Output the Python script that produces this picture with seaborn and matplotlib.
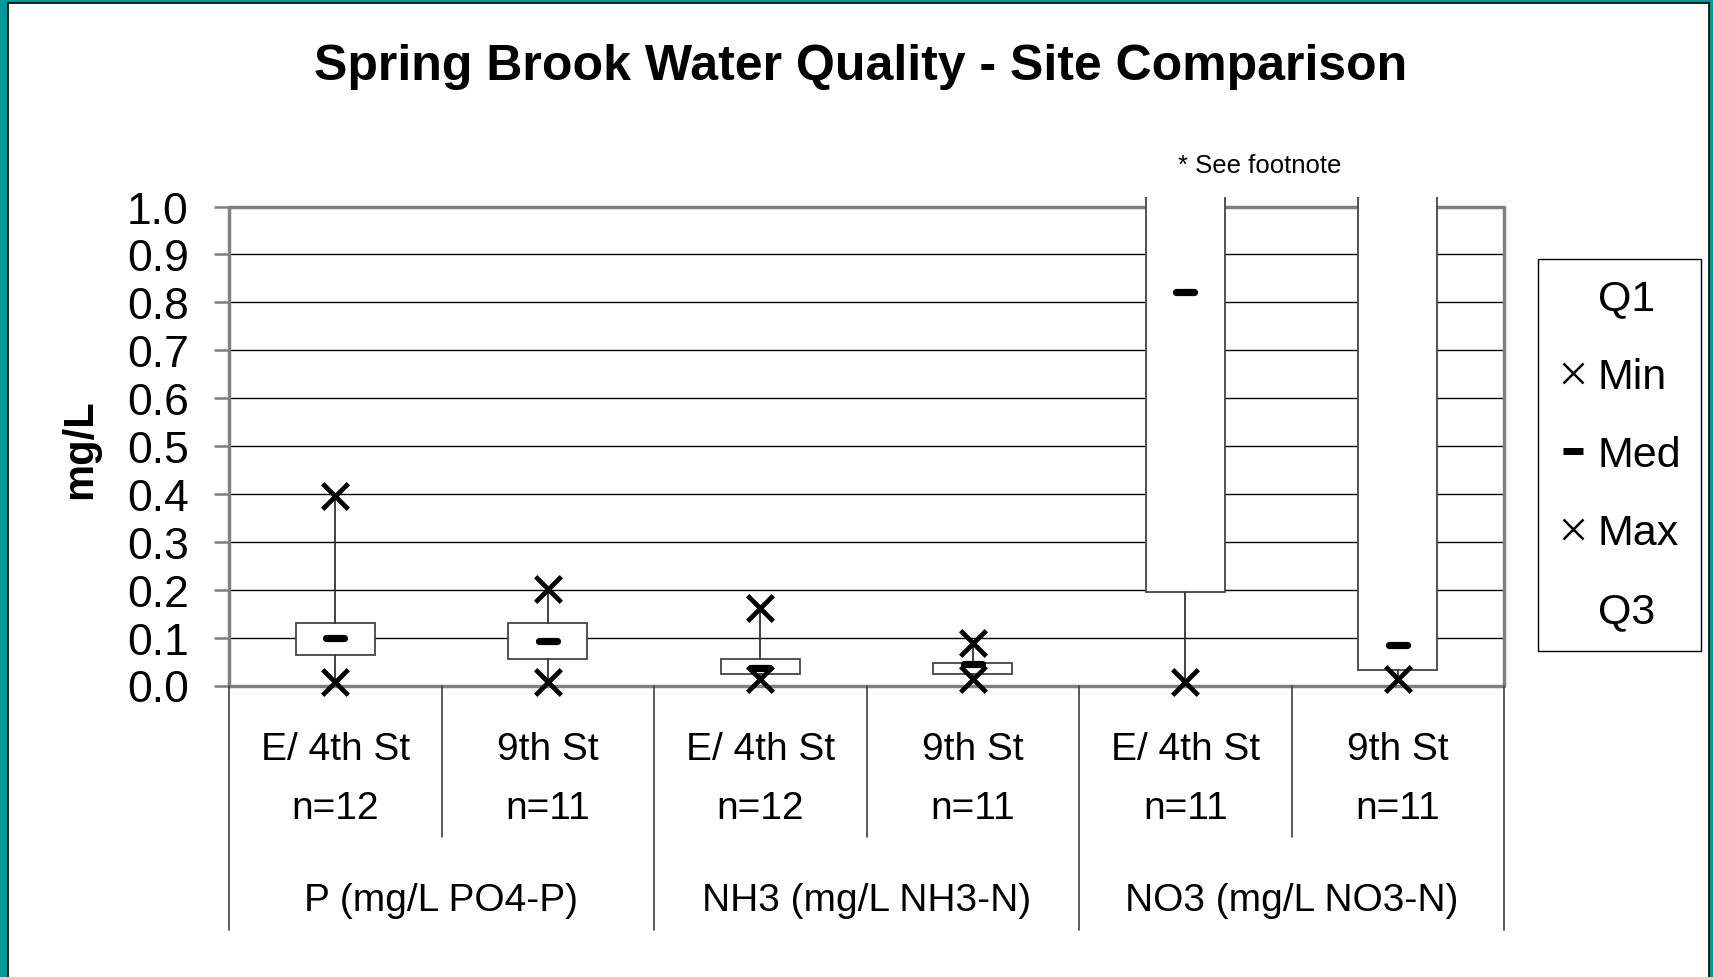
import numpy as np
import pandas as pd
import matplotlib
matplotlib.use("Agg")
import matplotlib.pyplot as plt
import matplotlib.transforms as mtransforms
from matplotlib.lines import Line2D
from matplotlib.patches import Rectangle
import seaborn as sns

# ---------------- data ----------------
sites = ["E/ 4th St", "9th St", "E/ 4th St", "9th St", "E/ 4th St", "9th St"]
counts = ["n=12", "n=11", "n=12", "n=11", "n=11", "n=11"]
groups = ["P (mg/L PO4-P)", "NH3 (mg/L NH3-N)", "NO3 (mg/L NO3-N)"]
q1_vals = [0.064, 0.055, 0.023, 0.023, 0.195, 0.032]
q3_vals = [0.130, 0.130, 0.055, 0.048, 1.30, 1.25]
min_vals = [0.007, 0.007, 0.014, 0.014, 0.007, 0.014]
med_vals = [0.100, 0.092, 0.036, 0.045, 0.822, 0.084]
max_vals = [0.396, 0.201, 0.161, 0.089, 2.00, 1.90]
y_ticks = [0.0, 0.1, 0.2, 0.3, 0.4, 0.5, 0.6, 0.7, 0.8, 0.9, 1.0]

# ---------------- style ----------------
sns.set_theme(style="white")
plt.rcParams["font.family"] = ["Liberation Sans", "DejaVu Sans"]
plt.rcParams["text.color"] = "black"
plt.rcParams["axes.labelcolor"] = "black"
plt.rcParams["ytick.color"] = "black"
plt.rcParams["xtick.color"] = "black"

W, H = 1713, 978
fig = plt.figure(figsize=(W / 100, H / 100), dpi=100, facecolor="#009999")
bg = Rectangle((8 / W, -0.01), (1709 - 8) / W, 1.01 - 4 / H,
               transform=fig.transFigure, facecolor="white",
               edgecolor="black", linewidth=1.2, zorder=-10)
fig.patches.append(bg)

y0_px, ytop_px = 686.5, 198.0
ax = fig.add_axes([229 / W, (H - y0_px) / H, (1504 - 229) / W, (y0_px - ytop_px) / H])
ax.set_zorder(1)
ax.set_facecolor("none")
ax.set_xlim(-0.5, 5.5)
ax.set_ylim(0, 1.02)
for s in ax.spines.values():
    s.set_visible(False)

# gridlines and plot-area frame
for y in y_ticks[1:-1]:
    ax.axhline(y, color="black", lw=1.0, zorder=1)
ax.plot([-0.5, 5.5], [1.0, 1.0], color="#808080", lw=2.5, zorder=1.5, solid_capstyle="butt")
ax.plot([-0.5, 5.5], [0.0, 0.0], color="#808080", lw=2.5, zorder=1.5, clip_on=False,
        solid_capstyle="butt")
for xv in (-0.5, 5.5):
    ax.plot([xv, xv], [0, 1.0], color="#808080", lw=2.5, zorder=1.5, clip_on=False)

# boxes
positions = list(range(len(sites)))
stats = [dict(med=m, q1=a, q3=b, whislo=lo, whishi=hi, fliers=[])
         for m, a, b, lo, hi in zip(med_vals, q1_vals, q3_vals, min_vals, max_vals)]
res = ax.bxp(stats, positions=positions, widths=0.37, patch_artist=True,
             showfliers=False, showcaps=False,
             boxprops=dict(facecolor="white", edgecolor="#444444", linewidth=1.3),
             whiskerprops=dict(color="#333333", linewidth=1.3),
             medianprops=dict(visible=False))
for key, arts in res.items():
    for a in arts:
        a.set_zorder(3)

# markers
df = pd.DataFrame({"pos": positions, "min": min_vals, "med": med_vals, "max": max_vals})
sns.scatterplot(data=df, x="pos", y="max", marker="x", s=340, color="black",
                linewidth=3.4, ax=ax, zorder=4, legend=False)
sns.scatterplot(data=df, x="pos", y="min", marker="x", s=340, color="black",
                linewidth=3.4, ax=ax, zorder=4, legend=False, clip_on=False)
sns.scatterplot(data=df, x="pos", y="med", marker="_", s=170, color="black",
                linewidth=5.2, ax=ax, zorder=4, legend=False)
ax.collections[-1].set_capstyle("round")

ax.set_xlabel("")
ax.set_ylabel("")
ax.set_xticks([])
ax.set_yticks(y_ticks)
ax.set_yticklabels([f"{v:.1f}" for v in y_ticks], fontsize=32, color="black")
ax.tick_params(axis="y", left=True, direction="out", length=11, width=1.8,
               color="#808080", pad=18)

# category axis labels and separators
trans = mtransforms.blended_transform_factory(ax.transData, ax.transAxes)
for i, (s, n) in enumerate(zip(sites, counts)):
    ax.text(i, -0.129, s, transform=trans, ha="center", va="center", fontsize=28)
    ax.text(i, -0.250, n, transform=trans, ha="center", va="center", fontsize=28)
for g_i, g in enumerate(groups):
    ax.text(2 * g_i + 0.5, -0.440, g, transform=trans, ha="center", va="center", fontsize=28)
for xv in [0.5, 2.5, 4.5]:
    ax.plot([xv, xv], [0, -0.31], transform=trans, color="#404040", lw=1.2, clip_on=False)
for xv in [-0.5, 1.5, 3.5, 5.5]:
    ax.plot([xv, xv], [0, -0.5], transform=trans, color="#404040", lw=1.2, clip_on=False)

# titles and notes
fig.text(861 / W, 1 - 67 / H, "Spring Brook Water Quality - Site Comparison",
         ha="center", va="center", fontsize=36, fontweight="bold")
fig.text(80 / W, 1 - 449 / H, "mg/L", rotation=90, ha="center", va="center",
         fontsize=30, fontweight="bold")
fig.text(1260 / W, 1 - 166 / H, "* See footnote", ha="center", va="center", fontsize=18.5)

# legend
handles = [
    Line2D([], [], linestyle="none", marker=None),
    Line2D([], [], linestyle="none", marker="x", markersize=15, markeredgewidth=1.8, color="black"),
    Line2D([], [], linestyle="none", marker="_", markersize=15, markeredgewidth=5, color="black"),
    Line2D([], [], linestyle="none", marker="x", markersize=15, markeredgewidth=1.8, color="black"),
    Line2D([], [], linestyle="none", marker=None),
]
labels = ["Q1", "Min", "Med", "Max", "Q3"]
leg = fig.legend(handles, labels, loc="upper left",
                 bbox_to_anchor=(1538 / W, 1 - 260 / H), bbox_transform=fig.transFigure,
                 borderaxespad=0, fontsize=31, frameon=True, fancybox=False,
                 framealpha=1, edgecolor="black", borderpad=0.45, handlelength=0.72,
                 handletextpad=0.22, labelspacing=0.89)
leg.get_frame().set_linewidth(1.0)

fig.savefig("out.png", dpi=100, facecolor=fig.get_facecolor())
